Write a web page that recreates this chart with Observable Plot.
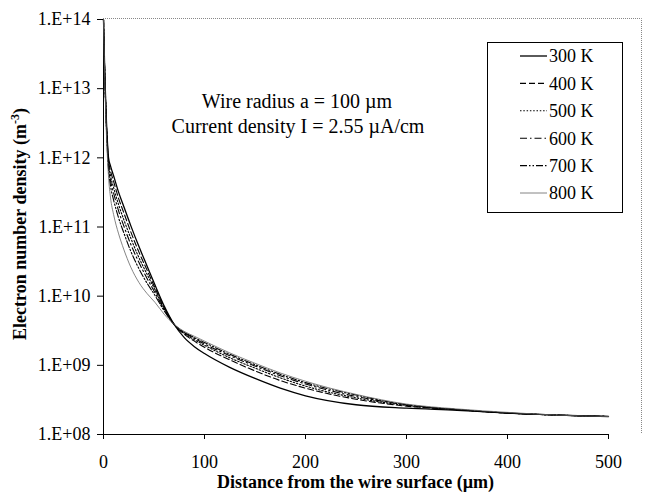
<!DOCTYPE html>
<html>
<head>
<meta charset="utf-8">
<script src="https://cdn.jsdelivr.net/npm/d3@7"></script>
<script src="https://cdn.jsdelivr.net/npm/@observablehq/plot@0.6"></script>
<style>
  html, body { margin: 0; padding: 0; background: #fff; }
  #chart { width: 656px; height: 495px; }
</style>
</head>
<body>
<div id="chart"></div>
<script>
// Distance from the wire surface (µm)
const distance = [0,1,2,3,4,5,7,10,15,20,27,35,43,51,60,70,80,90,100,125,150,175,200,250,300,350,400,450,500];
// log10 of electron number density (m^-3)
const log300 = [14.0,13.40,12.90,12.50,12.20,12.00,11.88,11.74,11.50,11.30,11.02,10.72,10.44,10.16,9.86,9.59,9.40,9.27,9.17,8.97,8.81,8.67,8.56,8.43,8.38,8.35,8.31,8.28,8.26];
const log400 = [14.0,13.38,12.88,12.47,12.17,11.96,11.81,11.66,11.41,11.21,10.93,10.64,10.38,10.12,9.84,9.59,9.45,9.35,9.26,9.08,8.92,8.78,8.67,8.51,8.41,8.36,8.31,8.28,8.26];
const log500 = [14.0,13.37,12.86,12.44,12.13,11.92,11.74,11.57,11.32,11.11,10.84,10.56,10.32,10.09,9.82,9.59,9.46,9.37,9.29,9.11,8.96,8.82,8.70,8.53,8.42,8.36,8.31,8.28,8.26];
const log600 = [14.0,13.35,12.83,12.41,12.10,11.87,11.67,11.49,11.23,11.02,10.75,10.49,10.26,10.05,9.81,9.59,9.47,9.39,9.31,9.14,8.99,8.85,8.73,8.55,8.43,8.36,8.31,8.28,8.26];
const log700 = [14.0,13.34,12.81,12.38,12.06,11.83,11.59,11.39,11.13,10.92,10.65,10.40,10.19,10.01,9.79,9.59,9.48,9.40,9.33,9.16,9.01,8.87,8.75,8.57,8.43,8.36,8.31,8.28,8.26];
const log800 = [14.0,13.30,12.75,12.30,11.98,11.72,11.42,11.18,10.90,10.68,10.42,10.20,10.04,9.91,9.74,9.59,9.49,9.42,9.35,9.18,9.03,8.89,8.77,8.58,8.44,8.37,8.32,8.28,8.26];

const seriesNames = ["300 K","400 K","500 K","600 K","700 K","800 K"];
const seriesLogs = [log300, log400, log500, log600, log700, log800];

const xTicks = [0,100,200,300,400,500];
const yTicks = [1e8,1e9,1e10,1e11,1e12,1e13,1e14];
const yTickLabels = ["1.E+08","1.E+09","1.E+10","1.E+11","1.E+12","1.E+13","1.E+14"];

const xTitle = "Distance from the wire surface (\u00B5m)";
const yTitle = "Electron number density (m";
const yTitleSup = "-3";
const note1 = "Wire radius a = 100 \u00B5m";
const note2 = "Current density I = 2.55 \u00B5A/cm";

// styles per series
const styles = [
  {stroke: "#000", strokeWidth: 1.3, dash: null},
  {stroke: "#000", strokeWidth: 1.1, dash: "6,3"},
  {stroke: "#000", strokeWidth: 1.1, dash: "1.5,1.8"},
  {stroke: "#000", strokeWidth: 1.1, dash: "7,3,1.5,3"},
  {stroke: "#000", strokeWidth: 1.1, dash: "7,2,1.5,2,1.5,2"},
  {stroke: "#666", strokeWidth: 0.8, dash: null}
];

const tables = seriesLogs.map((logs, s) => distance.map((d, i) => ({x: d, y: Math.pow(10, logs[i]), series: seriesNames[s]})));

const W = 656, H = 495;
const mL = 103, mR = 48, mT = 19, mB = 61;

const marks = [
  Plot.ruleX([0], {y1: 1e8, y2: 1e14, stroke: "#000", strokeWidth: 1}),
  Plot.ruleY([1e8], {x1: 0, x2: 500, stroke: "#000", strokeWidth: 1})
];
tables.forEach((t, s) => {
  const st = styles[s];
  const opts = {x: "x", y: "y", stroke: st.stroke, strokeWidth: st.strokeWidth, curve: "monotone-x"};
  if (st.dash) opts.strokeDasharray = st.dash;
  marks.push(Plot.line(t, opts));
});

const chart = Plot.plot({
  width: W, height: H,
  marginLeft: mL, marginRight: mR, marginTop: mT, marginBottom: mB,
  style: {fontFamily: "'Liberation Serif', 'Times New Roman', serif", fontSize: "18px", color: "#000", background: "#fff", overflow: "visible"},
  x: {domain: [0, 500], ticks: xTicks, tickSize: 5, tickPadding: 16, tickFormat: d => String(d), label: null},
  y: {type: "log", domain: [1e8, 1e14], ticks: yTicks, tickSize: 6, tickPadding: 7,
      tickFormat: d => yTickLabels[yTicks.indexOf(d)], label: null},
  marks
});
document.getElementById("chart").appendChild(chart);

// decorations
const svg = d3.select(chart);
const serif = "'Liberation Serif', 'Times New Roman', serif";

// dotted plot-area border (top and right)
svg.append("path")
  .attr("d", `M${mL},18.5H641.5V434`)
  .attr("fill", "none").attr("stroke", "#888").attr("stroke-width", 1).attr("stroke-dasharray", "1,1");

// annotation
const ann = svg.append("g").attr("font-family", serif).attr("font-size", 20).attr("text-anchor", "middle").attr("fill", "#000");
ann.append("text").attr("x", 297).attr("y", 108).text(note1);
ann.append("text").attr("x", 298).attr("y", 133).text(note2);

// axis titles
svg.append("text").attr("x", 355.5).attr("y", 488).attr("text-anchor", "middle")
  .attr("font-family", serif).attr("font-size", 18).attr("font-weight", "bold").text(xTitle);
const yt = svg.append("text").attr("transform", "translate(26,224) rotate(-90)").attr("text-anchor", "middle")
  .attr("font-family", serif).attr("font-size", 18).attr("font-weight", "bold");
yt.append("tspan").text(yTitle);
yt.append("tspan").attr("font-size", 12).attr("dy", -7).text(yTitleSup);
yt.append("tspan").attr("dy", 7).text(")");

// legend
const lg = svg.append("g").attr("text-anchor", "start");
lg.append("rect").attr("x", 487.5).attr("y", 42.5).attr("width", 135).attr("height", 170)
  .attr("fill", "#fff").attr("stroke", "#000").attr("stroke-width", 1);
seriesNames.forEach((name, i) => {
  const cy = 56 + i * 27.4;
  const st = styles[i];
  const ln = lg.append("line").attr("x1", 520).attr("x2", 547).attr("y1", cy).attr("y2", cy)
    .attr("stroke", st.stroke).attr("stroke-width", st.strokeWidth);
  if (st.dash) ln.attr("stroke-dasharray", st.dash);
  lg.append("text").attr("x", 549).attr("y", cy).attr("dy", "0.35em").attr("text-anchor", "start")
    .attr("font-family", serif).attr("font-size", 18).attr("fill", "#000").text(name);
});
</script>
</body>
</html>
